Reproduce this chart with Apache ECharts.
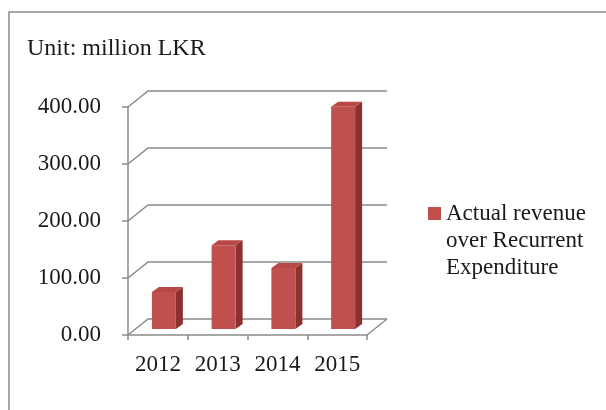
<!DOCTYPE html>
<html>
<head>
<meta charset="utf-8">
<script src="https://cdn.jsdelivr.net/npm/echarts@6/dist/echarts.min.js"></script>
<style>
  html, body { margin: 0; padding: 0; background: #ffffff; }
  #chart { width: 606px; height: 410px; }
</style>
</head>
<body>
<div id="chart"></div>
<script>
// Surplus of actual revenue over recurrent expenditure, million LKR
const years = ['2012', '2013', '2014', '2015'];
const surplus = [65, 147, 107, 390];
const yTicks = [0, 100, 200, 300, 400];
const seriesName = 'Actual revenue over Recurrent Expenditure';
const legendLines = ['Actual revenue', 'over Recurrent', 'Expenditure'];
const unitLabel = 'Unit: million LKR';

const FONT = '"Liberation Serif", "Times New Roman", serif';
const TEXT = '#1a1a1a';
const LINE = '#8a8a8a';
// pseudo-3D geometry: back wall offset and bar depth
const DEPTH_X = 20, DEPTH_Y = -16;
const BAR_SHIFT = 6;
const BAR_W = 24, BAR_DX = 7, BAR_DY = -5;
const FRONT = '#C0504D', TOP = '#B84845', SIDE = '#8B3230';

const chart = echarts.init(document.getElementById('chart'), null, { renderer: 'canvas' });

// back-wall gridline for one tick value, plus the right edge of the floor
function wallItem(params, api) {
  const cs = params.coordSys;
  const v = api.value(1);
  const y = api.coord([0, v])[1];
  const left = cs.x, right = cs.x + cs.width;
  const style = { stroke: LINE, lineWidth: 1.5, fill: null };
  const children = [{
    type: 'polyline',
    shape: { points: [[left, y], [left + DEPTH_X, y + DEPTH_Y], [right + DEPTH_X, y + DEPTH_Y]] },
    style: style
  }];
  if (v === 0) {
    children.push({ type: 'line', shape: { x1: right, y1: y, x2: right + DEPTH_X, y2: y + DEPTH_Y }, style: style });
  }
  return { type: 'group', children: children };
}

// a 3D-looking column: front face, right side and top
function barItem(params, api) {
  const i = api.value(0), v = api.value(1);
  const top = api.coord([i, v]);
  const base = api.coord([i, 0]);
  const x0 = top[0] - BAR_W / 2 + BAR_SHIFT, x1 = x0 + BAR_W;
  const yt = top[1] - BAR_SHIFT, yb = base[1] - BAR_SHIFT;
  return {
    type: 'group',
    children: [
      { type: 'polygon', shape: { points: [[x1, yt], [x1 + BAR_DX, yt + BAR_DY], [x1 + BAR_DX, yb + BAR_DY], [x1, yb]] }, style: { fill: SIDE } },
      { type: 'polygon', shape: { points: [[x0, yt], [x0 + BAR_DX, yt + BAR_DY], [x1 + BAR_DX, yt + BAR_DY], [x1, yt]] }, style: { fill: TOP } },
      { type: 'rect', shape: { x: x0, y: yt, width: BAR_W, height: yb - yt }, style: { fill: FRONT } }
    ]
  };
}

chart.setOption({
  animation: false,
  backgroundColor: '#ffffff',
  graphic: [{
    type: 'rect', z: -10,
    shape: { x: 9, y: 12, width: 700, height: 500 },
    style: { fill: null, stroke: LINE, lineWidth: 1.5 }
  }],
  title: {
    text: unitLabel,
    left: 27, top: 37, padding: 0,
    textStyle: { fontFamily: FONT, fontSize: 24, fontWeight: 'normal', color: TEXT }
  },
  legend: {
    data: [seriesName],
    left: 428, top: 146, padding: 0,
    icon: 'rect', itemWidth: 13, itemHeight: 13,
    formatter: function () { return '\n\n' + legendLines.join('\n'); },
    textStyle: { fontFamily: FONT, fontSize: 23, lineHeight: 27, color: TEXT }
  },
  grid: { left: 128, top: 107, width: 239, height: 228 },
  xAxis: {
    type: 'category',
    data: years,
    boundaryGap: true,
    axisLine: { lineStyle: { color: LINE, width: 1.5 } },
    axisTick: { show: true, length: 5, lineStyle: { color: LINE, width: 1.5 } },
    axisLabel: { fontFamily: FONT, fontSize: 23, color: TEXT, margin: 18, interval: 0 }
  },
  yAxis: {
    type: 'value',
    min: 0, max: 400, interval: 100,
    axisLine: { show: true, lineStyle: { color: LINE, width: 1.5 } },
    axisTick: { show: true, length: 6, lineStyle: { color: LINE, width: 1.5 } },
    splitLine: { show: false },
    axisLabel: {
      fontFamily: FONT, fontSize: 23, color: TEXT, margin: 27,
      formatter: function (v) { return v.toFixed(2); }
    }
  },
  series: [
    {
      name: 'wall',
      type: 'custom',
      renderItem: wallItem,
      data: yTicks.map(function (v) { return [0, v]; }),
      z: 1,
      silent: true
    },
    {
      name: seriesName,
      type: 'custom',
      renderItem: barItem,
      itemStyle: { color: FRONT },
      data: surplus.map(function (v, i) { return [i, v]; }),
      z: 3
    }
  ]
});
</script>
</body>
</html>
